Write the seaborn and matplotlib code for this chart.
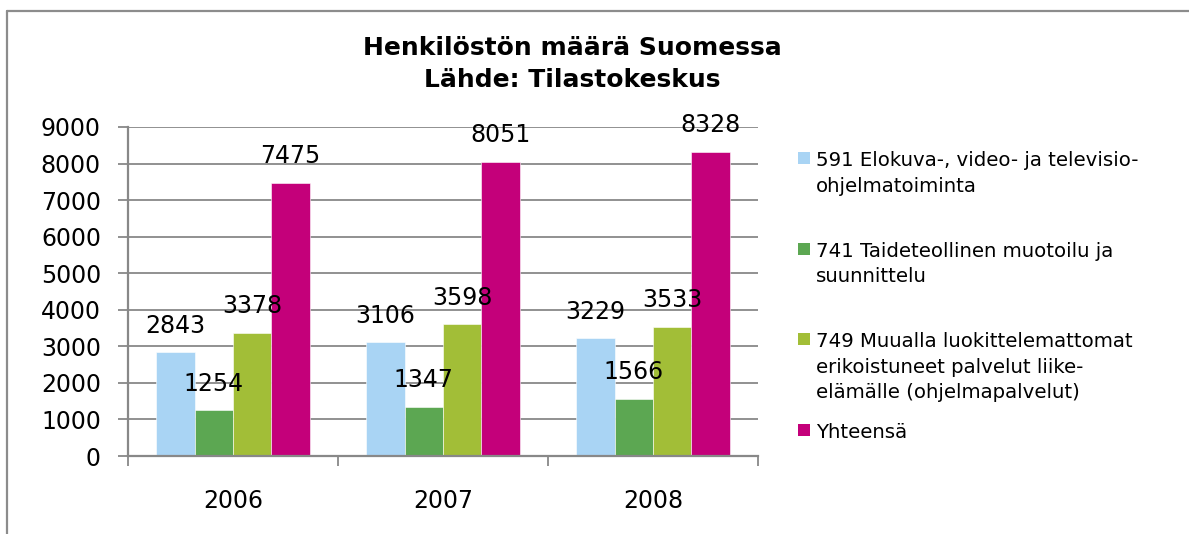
import matplotlib
matplotlib.use("Agg")
import matplotlib.pyplot as plt
from matplotlib.lines import Line2D
from matplotlib.patches import Rectangle
import seaborn as sns
import pandas as pd

years = ["2006", "2007", "2008"]
series = [
    "591 Elokuva-, video- ja televisio-\nohjelmatoiminta",
    "741 Taideteollinen muotoilu ja\nsuunnittelu",
    "749 Muualla luokittelemattomat\nerikoistuneet palvelut liike-\nelämälle (ohjelmapalvelut)",
    "Yhteensä",
]
v591 = [2843, 3106, 3229]
v741 = [1254, 1347, 1566]
v749 = [3378, 3598, 3533]
total = [7475, 8051, 8328]
colors = ["#A9D4F4", "#5CA752", "#A2BE37", "#C4007A"]
yticks = [0, 1000, 2000, 3000, 4000, 5000, 6000, 7000, 8000, 9000]
title = "Henkilöstön määrä Suomessa\nLähde: Tilastokeskus"

values = [v591, v741, v749, total]
rows = []
for s, vals in zip(series, values):
    for y, v in zip(years, vals):
        rows.append({"year": y, "series": s, "value": v})
df = pd.DataFrame(rows)

sns.set_style("white")
plt.rcParams["font.family"] = ["DejaVu Sans"]
plt.rcParams["text.color"] = "black"
plt.rcParams["xtick.labelcolor"] = "black"
plt.rcParams["ytick.labelcolor"] = "black"

W, H = 1189, 534
fig = plt.figure(figsize=(W / 100, H / 100), dpi=100)
L, R, T, B = 128, 758, 127, 456
ax = fig.add_axes([L / W, 1 - B / H, (R - L) / W, (B - T) / H])

sns.barplot(data=df, x="year", y="value", hue="series", palette=colors,
            order=years, hue_order=series, width=0.73, gap=0,
            ax=ax, legend=False, saturation=1, edgecolor="white", linewidth=0.4)

grid_c = "#888888"
ax.set_ylim(0, 9000)
ax.set_xlim(-0.5, 2.5)
ax.set_yticks(yticks)
ax.set_yticklabels([str(t) for t in yticks])
ax.yaxis.grid(True, color=grid_c, linewidth=1.3)
ax.set_axisbelow(True)
ax.set_xlabel("")
ax.set_ylabel("")
for sp in ["top", "right"]:
    ax.spines[sp].set_visible(False)
for sp in ["left", "bottom"]:
    ax.spines[sp].set_visible(True)
    ax.spines[sp].set_color(grid_c)
    ax.spines[sp].set_linewidth(1.6)

ax.tick_params(axis="y", direction="out", length=7.5, width=1.3, color=grid_c,
               labelsize=17, pad=12, left=True, labelcolor="black")
ax.set_xticks(range(len(years)))
ax.set_xticklabels(years)
ax.tick_params(axis="x", which="major", length=0, labelsize=17, pad=24,
               labelcolor="black")
ax.set_xticks([-0.5, 0.5, 1.5, 2.5], minor=True)
ax.tick_params(axis="x", which="minor", direction="out", length=7.5, width=1.3,
               color=grid_c, bottom=True)

for cont in ax.containers:
    for bar in cont:
        h = bar.get_height()
        ax.annotate(f"{int(round(h))}", (bar.get_x() + bar.get_width() / 2, h),
                    xytext=(0, 19), textcoords="offset points",
                    ha="center", va="center", fontsize=17, color="black",
                    annotation_clip=False)

fig.text(572 / W, 1 - 64 / H, title, ha="center", va="center",
         fontsize=18, fontweight="bold", linespacing=1.38, color="black")

# legend
for i, (s, c) in enumerate(zip(series, colors)):
    base = 166 + i * 90.7
    fig.patches.append(Rectangle((798 / W, 1 - (base - 2) / H), 12 / W, 12 / H,
                                 transform=fig.transFigure, facecolor=c,
                                 edgecolor="none"))
    for j, line in enumerate(s.split("\n")):
        fig.text(816 / W, 1 - (base + j * 25.5) / H, line, ha="left",
                 va="baseline", fontsize=14.2, color="black")

# outer border
fig.lines.append(Line2D([7 / W, 1], [1 - 11 / H, 1 - 11 / H],
                        transform=fig.transFigure, color="#8C8C8C", linewidth=1.6))
fig.lines.append(Line2D([7 / W, 7 / W], [0, 1 - 11 / H],
                        transform=fig.transFigure, color="#8C8C8C", linewidth=1.6))

fig.savefig("out.png", dpi=100, facecolor="white")
